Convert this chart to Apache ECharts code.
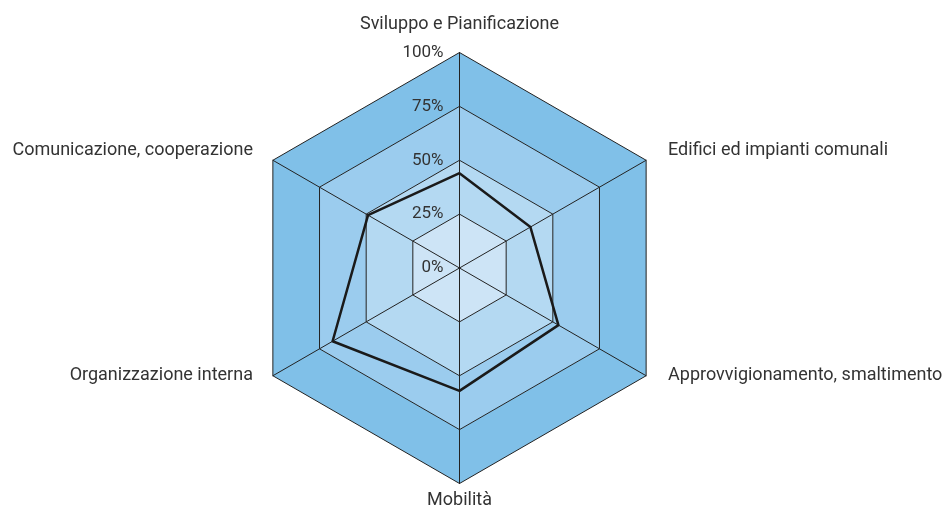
<!DOCTYPE html>
<html>
<head>
<meta charset="utf-8">
<script src="https://cdn.jsdelivr.net/npm/echarts@6/dist/echarts.min.js"></script>
<style>
html,body{margin:0;padding:0;background:#fff;}
#c{width:952px;height:506px;}
</style>
</head>
<body>
<div id="c"></div>
<script>
// Categories in ECharts radar order (top, then counter-clockwise)
const categories = [
  'Sviluppo e Pianificazione',
  'Comunicazione, cooperazione',
  'Organizzazione interna',
  'Mobilità',
  'Approvvigionamento, smaltimento',
  'Edifici ed impianti comunali'
];
const values = [44, 49, 68, 57, 53, 38];
const tickLabels = ['0%', '25%', '50%', '75%', '100%'];
const maxValue = 100;

const nameStyles = ['top', 'upLeft', 'downLeft', 'bottom', 'downRight', 'upRight'];

const chart = echarts.init(document.getElementById('c'));
const font = 'Roboto';
const fs = 18;
chart.setOption({
  animation: false,
  radar: {
    center: [459.5, 268],
    radius: 215.5,
    startAngle: 90,
    splitNumber: 4,
    shape: 'polygon',
    nameGap: 8,
    axisName: {
      color: '#333',
      fontFamily: font,
      fontSize: fs,
      formatter: function (name) {
        const i = categories.indexOf(name);
        return '{' + nameStyles[i] + '|' + name + '}';
      },
      rich: {
        top: {fontFamily: font, fontSize: fs, color: '#333', padding: [0, 0, 11, 0]},
        bottom: {fontFamily: font, fontSize: fs, color: '#333', padding: [0, 0, 0, 0]},
        upRight: {fontFamily: font, fontSize: fs, color: '#333', padding: [0, 0, 11, 15]},
        downRight: {fontFamily: font, fontSize: fs, color: '#333', padding: [0, 0, 8, 15]},
        upLeft: {fontFamily: font, fontSize: fs, color: '#333', padding: [0, 13, 11, 0]},
        downLeft: {fontFamily: font, fontSize: fs, color: '#333', padding: [0, 13, 8, 0]}
      }
    },
    indicator: categories.map(function (n, i) {
      const ind = {name: n, min: 0, max: maxValue};
      if (i === 0) {
        ind.axisLabel = {
          show: true,
          formatter: function (v, idx) { return tickLabels[idx]; }
        };
      }
      return ind;
    }),
    axisLabel: {
      show: false,
      color: '#333',
      fontFamily: font,
      fontSize: 17,
      margin: 16,
      align: 'right',
      verticalAlign: 'middle',
      padding: [0, 0, 6, 0]
    },
    axisLine: {lineStyle: {color: '#222', width: 1}},
    splitLine: {lineStyle: {color: '#222', width: 1}},
    splitArea: {
      show: true,
      areaStyle: {color: ['#CDE4F6', '#B4D9F2', '#9BCCEE', '#80C0E8'], opacity: 1}
    }
  },
  series: [{
    type: 'radar',
    symbol: 'none',
    lineStyle: {color: '#1a1a1a', width: 2.5},
    data: [{value: values}]
  }]
});
</script>
</body>
</html>
